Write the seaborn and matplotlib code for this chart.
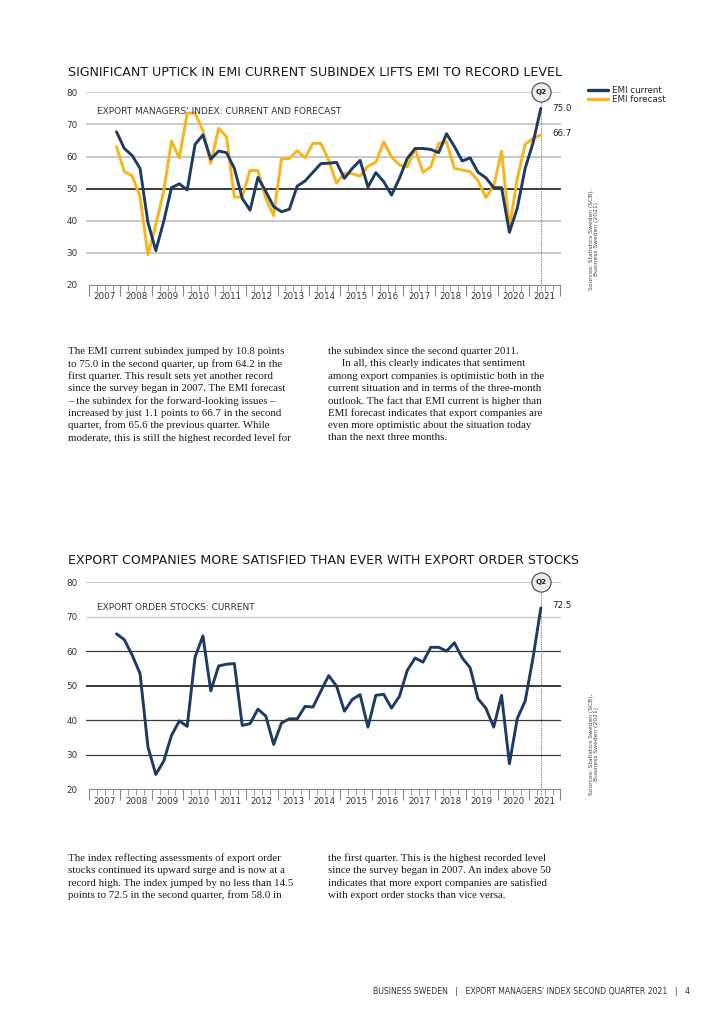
import numpy as np
import pandas as pd
import matplotlib
matplotlib.use("Agg")
import matplotlib.pyplot as plt
from matplotlib.lines import Line2D
import seaborn as sns

# quarterly series, 2007 Q4 .. 2021 Q2
start_year = 2007
start_quarter = 4

emi_current = [67.7, 62.5, 60.3, 56.3, 39.5, 30.7, 39.7, 50.3, 51.5, 49.6,
               63.8, 66.7, 59.2, 61.7, 61.2, 56.3, 47.0, 43.3, 53.5, 49.1,
               44.4, 42.8, 43.6, 50.8, 52.4, 55.1, 57.8, 57.9, 58.2, 53.2,
               56.3, 58.8, 50.5, 55.0, 52.2, 48.0, 53.2, 59.4, 62.5, 62.5,
               62.2, 61.2, 67.1, 63.1, 58.6, 59.6, 55.1, 53.4, 50.3, 50.3,
               36.4, 43.9, 56.3, 64.2, 75.0]
emi_forecast = [63.1, 55.3, 54.0, 47.5, 29.4, 38.7, 49.1, 64.8, 59.6, 73.5,
                73.6, 68.0, 57.9, 68.8, 66.2, 47.3, 47.5, 55.7, 55.6, 47.0,
                41.6, 59.2, 59.4, 61.8, 59.6, 64.1, 64.1, 58.9, 51.7, 54.8,
                54.6, 53.9, 57.0, 58.2, 64.6, 59.9, 57.4, 56.8, 62.5, 55.1,
                56.8, 64.1, 64.6, 56.3, 55.8, 55.3, 52.5, 47.2, 50.8, 61.7,
                37.9, 53.0, 63.8, 65.6, 66.7]
order_stocks = [65.0, 63.3, 58.8, 53.5, 32.3, 24.3, 28.1, 35.6, 39.8, 38.2,
                58.3, 64.4, 48.5, 55.7, 56.2, 56.4, 38.5, 39.0, 43.2, 41.2,
                33.0, 39.2, 40.4, 40.4, 44.0, 43.8, 48.4, 52.9, 49.9, 42.6,
                46.0, 47.4, 38.0, 47.2, 47.5, 43.5, 46.9, 54.4, 58.0, 56.8,
                61.1, 61.1, 60.0, 62.4, 58.0, 55.2, 46.2, 43.5, 38.0, 47.2,
                27.4, 40.5, 45.5, 58.0, 72.5]

years = list(range(2007, 2022))
y_ticks = [20, 30, 40, 50, 60, 70, 80]

NAVY = "#1d3b63"
GOLD = "#f8b418"

# x position = centre of each quarter
qx = [start_year + (start_quarter - 1 + i + 0.5) / 4 for i in range(len(emi_current))]
df1 = pd.DataFrame({"x": qx, "current": emi_current, "forecast": emi_forecast})
df2 = pd.DataFrame({"x": qx, "stocks": order_stocks})

sns.set_theme(style="white")
plt.rcParams["font.family"] = ["DejaVu Sans"]

W, H = 724, 1024
fig = plt.figure(figsize=(W / 100, H / 100), dpi=100)
fig.patch.set_facecolor("white")


def fx(px):
    return px / W


def fy(py):
    return 1 - py / H


def setup_axes(ax, light, dark, mid_lw):
    ax.set_xlim(2006.905, 2022.0)
    ax.set_ylim(20, 80)
    for v in light:
        ax.axhline(v, color="#c8c8c8", lw=mid_lw, zorder=1)
    for v in dark:
        ax.axhline(v, color="#3a3a3a", lw=0.9, zorder=1)
    ax.axhline(50, color="#2a2a2a", lw=1.3, zorder=1)
    for s in ["top", "right", "left"]:
        ax.spines[s].set_visible(False)
    ax.spines["bottom"].set_color("#888888")
    ax.spines["bottom"].set_linewidth(0.8)
    ax.spines["bottom"].set_bounds(2007, 2022)
    ax.set_xticks(years + [2022])
    ax.set_xticklabels([])
    ax.set_xticks([y + q / 4 for y in years for q in (1, 2, 3)], minor=True)
    ax.tick_params(axis="x", which="major", direction="out", length=8, width=0.8,
                   color="#888888", bottom=True)
    ax.tick_params(axis="x", which="minor", direction="out", length=4, width=0.6,
                   color="#888888", bottom=True)
    ax.set_yticks(y_ticks)
    ax.set_yticklabels([str(v) for v in y_ticks], fontsize=6.3, color="#333333")
    ax.tick_params(axis="y", length=0, pad=6)
    for yr in years:
        ax.text(yr + 0.5, -0.06, str(yr), transform=ax.get_xaxis_transform(),
                ha="center", va="center", fontsize=6.3, color="#333333")
    ax.set_xlabel("")
    ax.set_ylabel("")
    ax.grid(False)


def q2_marker(ax, x):
    ax.plot([x, x], [18.5, 80], ls=(0, (1.2, 1.2)), color="#777777", lw=0.7,
            zorder=2, clip_on=False)
    ax.scatter([x], [80], s=190, facecolor="#ececec", edgecolor="#444444",
               linewidth=0.8, zorder=6, clip_on=False)
    ax.text(x, 80, "Q2", ha="center", va="center", fontsize=5.2,
            fontweight="bold", color="#222222", zorder=7)


# ---------------- chart 1 ----------------
ax1 = fig.add_axes([fx(86), fy(285), fx(560.5) - fx(86), fy(92.3) - fy(285)])
setup_axes(ax1, light=[30, 40, 60, 70, 80], dark=[], mid_lw=1.4)
sns.lineplot(data=df1, x="x", y="forecast", ax=ax1, color=GOLD, lw=2.1, zorder=3)
sns.lineplot(data=df1, x="x", y="current", ax=ax1, color=NAVY, lw=2.1, zorder=4)
ax1.set_xlabel("")
ax1.set_ylabel("")
q2_marker(ax1, qx[-1])
ax1.annotate(f"{emi_current[-1]:.1f}", (qx[-1], emi_current[-1]), xytext=(8, 0),
             textcoords="offset points", fontsize=6.3, color="#222222", va="center")
ax1.annotate(f"{emi_forecast[-1]:.1f}", (qx[-1], emi_forecast[-1]), xytext=(8, 1),
             textcoords="offset points", fontsize=6.3, color="#222222", va="center")
ax1.text(0.023, 0.9, "EXPORT MANAGERS' INDEX: CURRENT AND FORECAST",
         transform=ax1.transAxes, fontsize=6.5, color="#333333", va="center")

handles = [Line2D([], [], color=NAVY, lw=2.4), Line2D([], [], color=GOLD, lw=2.4)]
ax1.legend(handles, ["EMI current", "EMI forecast"], loc="upper left",
           bbox_to_anchor=(fx(588), fy(86)), bbox_transform=fig.transFigure,
           frameon=False, fontsize=6.3, handlelength=2.3, handletextpad=0.45,
           labelspacing=0.05, borderaxespad=0, borderpad=0)

fig.text(fx(68), fy(73), "SIGNIFICANT UPTICK IN EMI CURRENT SUBINDEX LIFTS EMI TO RECORD LEVEL",
         fontsize=9.1, color="#1a1a1a", va="center", ha="left")
fig.text(fx(594), fy(290), "Sources: Statistics Sweden (SCB),\nBusiness Sweden (2021)",
         rotation=90, fontsize=4.3, color="#444444", ha="center", va="bottom",
         linespacing=1.2)

# ---------------- chart 2 ----------------
ax2 = fig.add_axes([fx(86), fy(789.3), fx(560.5) - fx(86), fy(582) - fy(789.3)])
setup_axes(ax2, light=[70, 80], dark=[30, 40, 60], mid_lw=0.9)
sns.lineplot(data=df2, x="x", y="stocks", ax=ax2, color=NAVY, lw=2.1, zorder=4)
ax2.set_xlabel("")
ax2.set_ylabel("")
q2_marker(ax2, qx[-1])
ax2.annotate(f"{order_stocks[-1]:.1f}", (qx[-1], order_stocks[-1]), xytext=(8, 2),
             textcoords="offset points", fontsize=6.3, color="#222222", va="center")
ax2.text(0.023, 0.878, "EXPORT ORDER STOCKS: CURRENT",
         transform=ax2.transAxes, fontsize=6.5, color="#333333", va="center")

fig.text(fx(68), fy(561), "EXPORT COMPANIES MORE SATISFIED THAN EVER WITH EXPORT ORDER STOCKS",
         fontsize=9.1, color="#1a1a1a", va="center", ha="left")
fig.text(fx(594), fy(795), "Sources: Statistics Sweden (SCB),\nBusiness Sweden (2021)",
         rotation=90, fontsize=4.3, color="#444444", ha="center", va="bottom",
         linespacing=1.2)

# ---------------- body text ----------------
body1_left = [
    "The EMI current subindex jumped by 10.8 points",
    "to 75.0 in the second quarter, up from 64.2 in the",
    "first quarter. This result sets yet another record",
    "since the survey began in 2007. The EMI forecast",
    "\u2013 the subindex for the forward-looking issues \u2013",
    "increased by just 1.1 points to 66.7 in the second",
    "quarter, from 65.6 the previous quarter. While",
    "moderate, this is still the highest recorded level for",
]
body1_right = [
    "the subindex since the second quarter 2011.",
    "     In all, this clearly indicates that sentiment",
    "among export companies is optimistic both in the",
    "current situation and in terms of the three-month",
    "outlook. The fact that EMI current is higher than",
    "EMI forecast indicates that export companies are",
    "even more optimistic about the situation today",
    "than the next three months.",
]
body2_left = [
    "The index reflecting assessments of export order",
    "stocks continued its upward surge and is now at a",
    "record high. The index jumped by no less than 14.5",
    "points to 72.5 in the second quarter, from 58.0 in",
]
body2_right = [
    "the first quarter. This is the highest recorded level",
    "since the survey began in 2007. An index above 50",
    "indicates that more export companies are satisfied",
    "with export order stocks than vice versa.",
]

serif = ["Liberation Serif", "DejaVu Serif"]


def column(lines, x, y0, step=12.35):
    for k, line in enumerate(lines):
        fig.text(fx(x), fy(y0 + k * step), line, family=serif, fontsize=7.8,
                 color="#1a1a1a", ha="left", va="center")


column(body1_left, 68, 351.5)
column(body1_right, 328, 351.5)
column(body2_left, 68, 858.5)
column(body2_right, 328, 858.5)

fig.text(fx(690), fy(991),
         "BUSINESS SWEDEN   |   EXPORT MANAGERS' INDEX SECOND QUARTER 2021   |   4",
         fontsize=5.6, color="#333333", ha="right", va="center")

fig.savefig("out.png", dpi=100, facecolor="white")
